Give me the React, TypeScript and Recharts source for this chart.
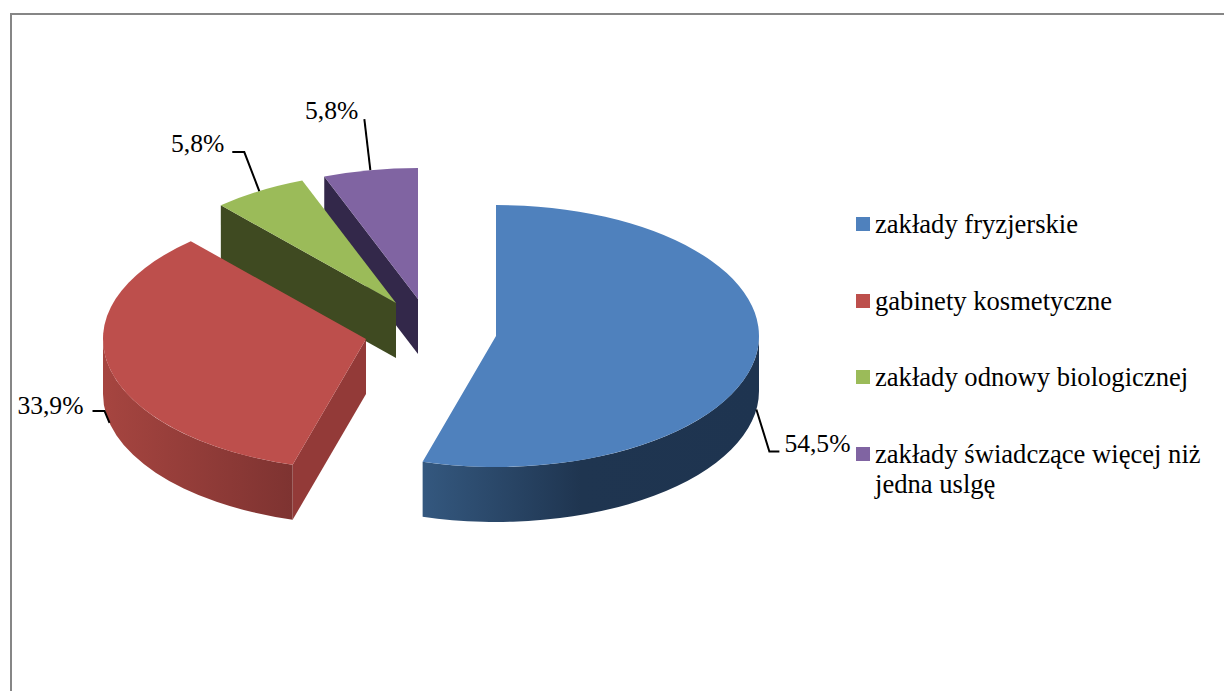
import React from 'react';
import { PieChart, Pie, Legend } from 'recharts';

// --- data -------------------------------------------------------------
const categories = [
  'zakłady fryzjerskie',
  'gabinety kosmetyczne',
  'zakłady odnowy biologicznej',
  'zakłady świadczące więcej niż jedna uslgę',
];
const shares = [54.5, 33.9, 5.8, 5.8];

// --- styling ----------------------------------------------------------
const topColors = ['#4f81bd', '#bd4f4c', '#9bbb59', '#8064a2'];
const cutColors = ['#2a4568', '#933a38', '#3f4a21', '#33284a'];
const wallStops: [string, string][][] = [
  [['0%', '#34587f'], ['47%', '#1f3550'], ['100%', '#1e3450']],
  [['0%', '#a64540'], ['100%', '#7e3331']],
  [['0%', '#3f4a21'], ['100%', '#3f4a21']],
  [['0%', '#33284a'], ['100%', '#33284a']],
];
// exploded offset of each slice from the pie centre (px)
const explode = [
  [96, 16],
  [-34, 19],
  [-4, -17],
  [18, -21],
];
// leader-line elbow + label placement relative to the slice's mid-arc anchor
const leaderPts = [
  [[13, 42], [23, 42]],
  [[-5, -12], [-17, -12]],
  [[-15, -39], [-27, -39]],
  [[-6, -51]],
];
const labelAt = [
  [28, 43],
  [-26, -9],
  [-35, -39],
  [-12, -51],
];
const labelAnchor = ['start', 'end', 'end', 'end'];

const PIE_CX = 400;
const PIE_CY = 320;
const RX = 263;
const SQUASH = 131 / 263;
const DEPTH = 55;
const FONT = '"Liberation Serif", "Times New Roman", serif';
const LABEL_SIZE = 25.6;
const LEGEND_SIZE = 26.6;

// drawn back to front: reversed order, counter-clockwise from the top
const rows = categories
  .map((name, i) => ({ name, value: shares[i], idx: i, fill: topColors[i] }))
  .reverse();

const rad = (d: number) => (d * Math.PI) / 180;

function SliceShape(props: any) {
  const { cx, cy, outerRadius, startAngle, endAngle, payload } = props;
  const idx: number = payload.idx;
  const ox = cx + explode[idx][0];
  const oy = cy + explode[idx][1];
  const rx = outerRadius;
  const ry = outerRadius * SQUASH;
  const s = Math.min(startAngle, endAngle);
  const e = Math.max(startAngle, endAngle);
  const pt = (a: number, d = 0) => [ox + rx * Math.cos(rad(a)), oy - ry * Math.sin(rad(a)) + d];
  const f = (p: number[]) => `${p[0].toFixed(2)} ${p[1].toFixed(2)}`;

  const top = `M${f([ox, oy])} L${f(pt(s))} A${rx} ${ry} 0 ${e - s > 180 ? 1 : 0} 0 ${f(pt(e))} Z`;

  const wallFrom = Math.max(s, 180);
  const wallTo = Math.min(e, 360);
  const wall =
    wallTo > wallFrom
      ? `M${f(pt(wallFrom))} A${rx} ${ry} 0 0 0 ${f(pt(wallTo))} L${f(pt(wallTo, DEPTH))} A${rx} ${ry} 0 0 1 ${f(pt(wallFrom, DEPTH))} Z`
      : null;

  const cut = (a: number) =>
    `M${f([ox, oy])} L${f(pt(a))} L${f(pt(a, DEPTH))} L${f([ox, oy + DEPTH])} Z`;
  const showEnd = Math.cos(rad(e)) < -1e-6;
  const showStart = Math.cos(rad(s)) > 1e-6;
  const gid = `wall-${idx}`;

  return (
    <g>
      <defs>
        <linearGradient id={gid} x1="0" y1="0" x2="1" y2="0">
          {wallStops[idx].map(([o, c]) => (
            <stop key={o} offset={o} stopColor={c} />
          ))}
        </linearGradient>
      </defs>
      {showStart && <path d={cut(s)} fill={cutColors[idx]} />}
      {showEnd && <path d={cut(e)} fill={cutColors[idx]} />}
      {wall && <path d={wall} fill={`url(#${gid})`} />}
      <path d={top} fill={topColors[idx]} />
    </g>
  );
}

function SliceLabel(props: any) {
  const { cx, cy, outerRadius, midAngle, payload } = props;
  const idx: number = payload.idx;
  const sinA = Math.sin(rad(midAngle));
  const ax = cx + explode[idx][0] + outerRadius * Math.cos(rad(midAngle));
  const ay = cy + explode[idx][1] - outerRadius * SQUASH * sinA + (sinA < 0 ? DEPTH : 0);
  const pts = [[ax, ay], ...leaderPts[idx].map(([dx, dy]) => [ax + dx, ay + dy])];
  return (
    <g>
      <polyline
        points={pts.map((p) => p.join(',')).join(' ')}
        fill="none"
        stroke="#000"
        strokeWidth={2}
      />
      <text
        x={ax + labelAt[idx][0]}
        y={ay + labelAt[idx][1]}
        textAnchor={labelAnchor[idx] as any}
        fontFamily={FONT}
        fontSize={LABEL_SIZE}
        fill="#000"
      >
        {payload.value.toFixed(1).replace('.', ',')}%
      </text>
    </g>
  );
}

function LegendBox() {
  return (
    <div style={{ fontFamily: FONT, fontSize: LEGEND_SIZE, lineHeight: '30px', color: '#000' }}>
      {categories.map((name, i) => (
        <div key={name} style={{ position: 'relative', height: 76.5, paddingLeft: 19, width: 335 }}>
          <span
            style={{
              position: 'absolute',
              left: 0,
              top: 8,
              width: 14,
              height: 14,
              background: topColors[i],
            }}
          />
          {name}
        </div>
      ))}
    </div>
  );
}

export default function App() {
  return (
    <div style={{ position: 'absolute', left: 0, top: 0, width: 1224, height: 691, overflow: 'hidden', background: '#fff' }}>
      <div
        style={{
          position: 'absolute',
          left: 10,
          top: 13,
          width: 1214,
          height: 678,
          borderTop: '2px solid #868686',
          borderLeft: '2px solid #868686',
          boxSizing: 'border-box',
        }}
      />
      <div style={{ position: 'absolute', left: 0, top: 0 }}>
        <PieChart width={1224} height={691} margin={{ top: 0, right: 0, bottom: 0, left: 0 }}>
          <Pie
            data={rows}
            dataKey="value"
            nameKey="name"
            cx={PIE_CX}
            cy={PIE_CY}
            innerRadius={0}
            outerRadius={RX}
            startAngle={90}
            endAngle={450}
            stroke="none"
            isAnimationActive={false}
            shape={SliceShape as any}
            activeShape={SliceShape as any}
            inactiveShape={SliceShape as any}
            label={SliceLabel as any}
            labelLine={false}
          />
          <Legend
            content={<LegendBox />}
            layout="vertical"
            align="right"
            verticalAlign="top"
            width={340}
            wrapperStyle={{ position: 'absolute', left: 856, top: 209, width: 340 }}
          />
        </PieChart>
      </div>
    </div>
  );
}
